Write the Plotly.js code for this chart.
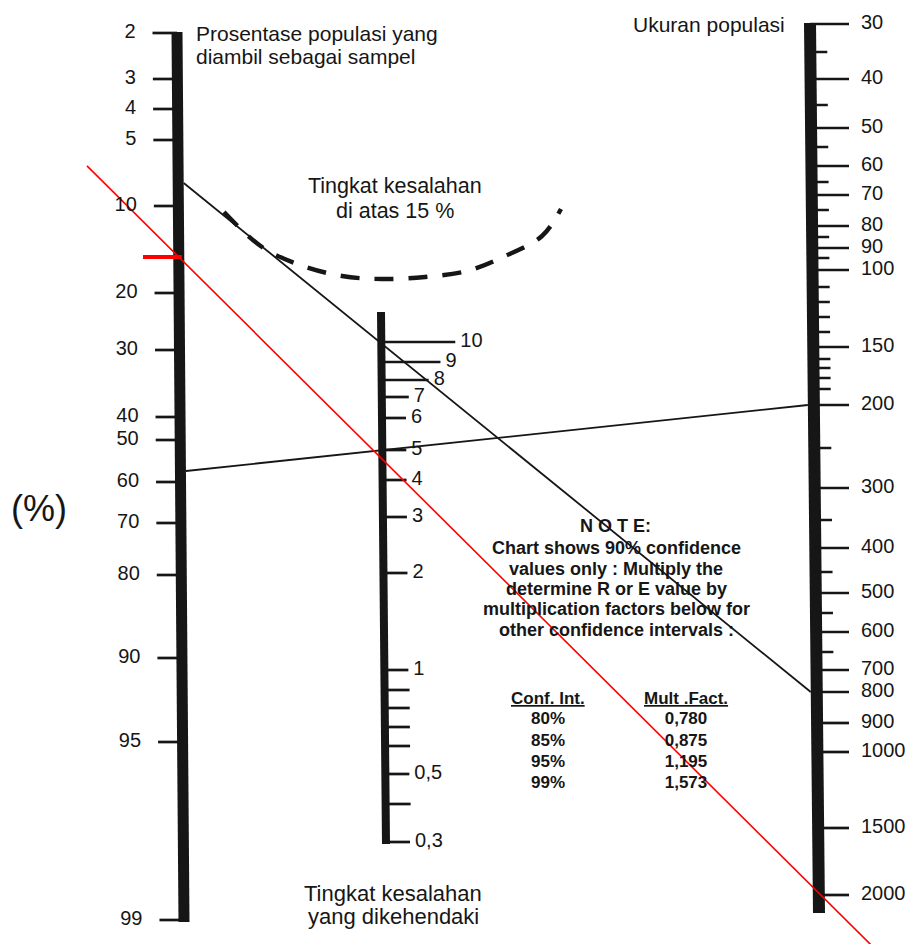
<!DOCTYPE html>
<html>
<head>
<meta charset="utf-8">
<script src="https://cdn.plot.ly/plotly-3.0.1.min.js"></script>
<style>html,body{margin:0;padding:0;background:#fff}#chart{width:909px;height:944px}</style>
</head>
<body>
<div id="chart"></div>
<script>
// ---------- DATA (positions along the common vertical scale) ----------
// Left scale: percentage of population taken as sample
const pctLabels = ['2','3','4','5','10','20','30','40','50','60','70','80','90','95','99'];
const pctPos    = [33, 79, 109, 140, 206, 293, 350, 417, 440, 482, 523, 575, 658, 742, 920];

// Middle scale: desired error level
const errLabels   = ['10','9','8','7','6','5','4','3','2','1','0,5','0,3'];
const errPos      = [342, 362, 380, 397, 418, 450, 480, 517, 573, 670, 774, 842];
const errMinorPos = [690, 708, 727, 746, 804];

// Right scale: population size
const popLabels   = ['30','40','50','60','70','80','90','100','150','200','300','400','500','600','700','800','900','1000','1500','2000'];
const popPos      = [24, 79, 128, 166, 195, 226, 248, 270, 347, 405, 488, 548, 593, 632, 670, 692, 723, 752, 828, 895];
const popMinorPos = [52, 105, 147, 182, 210, 237, 258, 287, 302, 317, 332, 359, 368, 378, 389, 448, 520, 572, 613, 652];

// Reading lines (black): reading on left scale -> reading on right scale
const readLeftPos  = [183, 471];
const readRightPos = [692, 405];

// Reading line (red)
const redLeftPos  = 257;
const redRightPos = 893;

// Dashed boundary "error above 15 %"
const curveX = [224, 262, 300, 342, 382, 425, 467, 503, 542, 561];
const curveY = [212, 247, 265, 276, 279, 277, 271, 257, 236, 209];

// Confidence table
const confInt  = ['80%','85%','95%','99%'];
const multFact = ['0,780','0,875','1,195','1,573'];

// ---------- STYLE / GEOMETRY ----------
const W = 909, H = 944;
const INK = '#161616';
const FONT = 'Liberation Sans, Arial, sans-serif';
const leftBar  = {xTop:177, xBot:184, yTop:32,  yBot:922, w:11};
const midBar   = {xTop:381, xBot:386, yTop:312, yBot:844, w:8};
const rightBar = {xTop:810, xBot:819, yTop:23,  yBot:913, w:12};
const errTickLen = [70, 55, 43, 23, 20, 20, 20, 20, 20, 20, 20, 20];
const popMajorEnd = 849, popLabelX = 861;
function bx(b, y){ return b.xTop + (b.xBot - b.xTop) * (y - b.yTop) / (b.yBot - b.yTop); }
function segs(ys, f0, f1){
  const X = [], Y = [];
  ys.forEach((y, i) => { X.push(f0(y, i), f1(y, i), null); Y.push(y, y, null); });
  return {x: X, y: Y};
}
function lineTrace(x, y, width, color, extra){
  return Object.assign({type:'scatter', mode:'lines', x:x, y:y, line:{color:color, width:width}, hoverinfo:'skip', showlegend:false}, extra||{});
}
function barTrace(b){ return lineTrace([b.xTop, b.xBot], [b.yTop, b.yBot], b.w, INK); }

const traces = [];
// bars
traces.push(barTrace(leftBar), barTrace(midBar), barTrace(rightBar));

// left ticks
let s = segs(pctPos, y => bx(leftBar, y) - leftBar.w/2 - 19, y => bx(leftBar, y));
traces.push(lineTrace(s.x, s.y, 2.7, INK));
// middle ticks
s = segs(errPos, y => bx(midBar, y), (y, i) => bx(midBar, y) + midBar.w/2 + errTickLen[i]);
traces.push(lineTrace(s.x, s.y, 2.7, INK));
s = segs(errMinorPos, y => bx(midBar, y), y => bx(midBar, y) + midBar.w/2 + 21);
traces.push(lineTrace(s.x, s.y, 2.7, INK));
// right ticks
s = segs(popPos, y => bx(rightBar, y), () => popMajorEnd);
traces.push(lineTrace(s.x, s.y, 2.7, INK));
s = segs(popMinorPos, y => bx(rightBar, y), y => bx(rightBar, y) + rightBar.w/2 + 11);
traces.push(lineTrace(s.x, s.y, 2.5, INK));

// black reading lines
readLeftPos.forEach((yl, i) => {
  const yr = readRightPos[i];
  traces.push(lineTrace([bx(leftBar, yl) + leftBar.w/2, bx(rightBar, yr) - rightBar.w/2], [yl, yr], 1.8, INK));
});

// dashed curve
traces.push(lineTrace(curveX, curveY, 4.4, INK, {line:{color:INK, width:4.4, dash:'19px,15px', shape:'spline', smoothing:1}}));

// red reading line, extended beyond both scales
(function(){
  const x0 = bx(leftBar, redLeftPos), x1 = bx(rightBar, redRightPos);
  const k = (redRightPos - redLeftPos) / (x1 - x0);
  const xa = 87, xb = 872;
  traces.push(lineTrace([xa, xb], [redLeftPos + k*(xa - x0), redLeftPos + k*(xb - x0)], 1.6, '#ff0000'));
  traces.push(lineTrace([143, x0 + 3], [redLeftPos, redLeftPos], 4, '#ff0000'));
})();

// tick labels
function textTrace(x, y, txt, pos, size, bold){
  return {type:'scatter', mode:'text', x:x, y:y, text: bold ? txt.map(t => '<b>'+t+'</b>') : txt,
          textposition:pos, textfont:{family:FONT, size:size, color:INK}, hoverinfo:'skip', showlegend:false};
}
traces.push(textTrace(pctPos.map(y => bx(leftBar, y) - leftBar.w/2 - 36), pctPos, pctLabels, 'middle left', 20));
traces.push(textTrace(errPos.map((y, i) => bx(midBar, y) + midBar.w/2 + errTickLen[i] + 5), errPos, errLabels, 'middle right', 20));
traces.push(textTrace(popPos.map(() => popLabelX), popPos, popLabels, 'middle right', 20));

// confidence table
const rowY = [720, 742, 763, 784];
traces.push(textTrace(rowY.map(() => 548), rowY, confInt, 'middle center', 17, true));
traces.push(textTrace(rowY.map(() => 686), rowY, multFact, 'middle center', 17, true));

function ann(text, x, y, xanchor, size, bold){
  return {text: bold ? '<b>'+text+'</b>' : text, x:x, y:y, xref:'x', yref:'y', xanchor:xanchor, yanchor:'middle',
          showarrow:false, font:{family:FONT, size:size, color:INK}};
}
const annotations = [
  ann('Prosentase populasi yang', 194, 33, 'left', 21),
  ann('diambil sebagai sampel', 194, 56, 'left', 21),
  ann('Ukuran populasi', 787, 24, 'right', 21),
  ann('Tingkat kesalahan', 395, 186, 'center', 21.5),
  ann('di atas 15 %', 395, 211, 'center', 21.5),
  ann('(%)', 39, 508, 'center', 36),
  ann('Tingkat kesalahan', 393, 893, 'center', 22),
  ann('yang dikehendaki', 393, 916, 'center', 22),
  ann('N O T E:', 615, 526, 'center', 18, true),
  ann('Chart shows 90% confidence', 616, 548, 'center', 18, true),
  ann('values only : Multiply the', 616, 569, 'center', 18, true),
  ann('determine R or E value by', 616, 589, 'center', 18, true),
  ann('multiplication factors below for', 616, 609, 'center', 18, true),
  ann('other confidence intervals :', 616, 630, 'center', 18, true),
  ann('<u>Conf. Int.</u>', 548, 698, 'center', 17, true),
  ann('<u>Mult .Fact.</u>', 686, 698, 'center', 17, true)
];

const layout = {
  width: W, height: H,
  margin: {l:0, r:0, t:0, b:0},
  paper_bgcolor: '#ffffff', plot_bgcolor: '#ffffff',
  xaxis: {range:[0, W], visible:false, fixedrange:true},
  yaxis: {range:[H, 0], visible:false, fixedrange:true},
  showlegend: false,
  annotations: annotations
};
Plotly.newPlot('chart', traces, layout, {staticPlot:true, displayModeBar:false});
</script>
</body>
</html>
